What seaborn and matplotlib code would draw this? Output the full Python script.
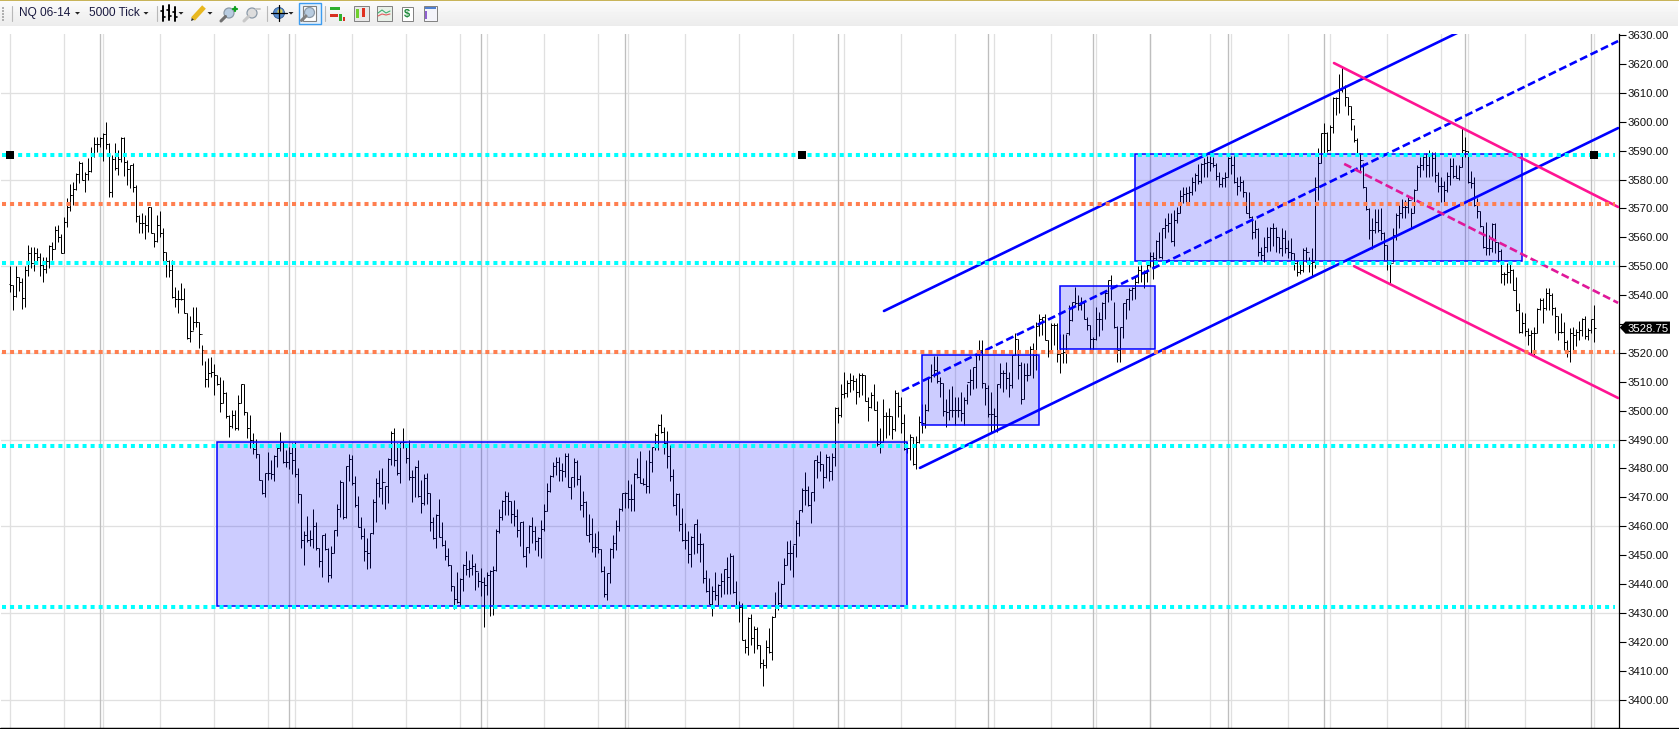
import numpy as np
import pandas as pd
import matplotlib
matplotlib.use('Agg')
import matplotlib.pyplot as plt
from matplotlib.lines import Line2D
from matplotlib.patches import Rectangle, Polygon, Circle
from matplotlib.transforms import blended_transform_factory
import seaborn as sns

# NQ 06-14, 5000 tick bars, one row = 10 bars
highs = [
    3549.9,3543.5,3549.9,3546.4,3545.8,3549.9,3557.3,3556.8,3556.8,3556.2,
    3554.7,3553.3,3553.3,3557.2,3558.5,3563.9,3564.1,3561.2,3567.1,3573.5,
    3578.4,3579.2,3582.1,3586.3,3586.1,3582.7,3587.4,3591.4,3594.8,3594.6,
    3594.6,3596.2,3599.9,3592.5,3588.5,3592.7,3590.2,3594.6,3594.6,3586.7,
    3584.9,3585.8,3578.2,3567.7,3568.3,3567.7,3570.6,3570.6,3561.4,3567.7,
    3569.1,3563.1,3555,3552.2,3552.2,3542.9,3541.8,3544.1,3542.4,3533.7,
    3532.8,3536,3535.8,3530.8,3522.8,3517.3,3518.1,3518.7,3516.2,3512.4,
    3511.8,3510.6,3506.6,3498.5,3500.2,3500.2,3505.4,3509.2,3509.2,3499.6,
    3498.5,3492.2,3490.1,3485,3476,3478.5,3485.8,3482.9,3484.7,3488.1,
    3492.5,3489.3,3486.4,3487.5,3488.7,3489,3480,3471,3458.5,3463.6,
    3458.7,3465.9,3461.6,3452.4,3457,3457.8,3452.4,3453.2,3458.7,3467.7,
    3476,3475.4,3480.9,3485,3484.7,3477.4,3470.5,3463.1,3459.3,3455.8,
    3457.6,3469.3,3476.6,3479.5,3480,3473.9,3483.5,3493,3493.9,3488.7,
    3489.3,3493.9,3488.1,3489.8,3479.5,3480.9,3482.9,3476,3478.1,3478.3,
    3471.6,3463.3,3464.2,3469.3,3461.6,3455.3,3452.4,3446.6,3439.3,3444.3,
    3442,3447,3451.5,3448.3,3450.4,3447.4,3444.3,3445.5,3442.6,3444.3,
    3444.9,3446.3,3459,3465.9,3469.1,3472.1,3472,3468.9,3469.1,3465.9,
    3461.6,3462,3453,3460.3,3463.1,3460.1,3456.4,3462.2,3467.7,3474.9,
    3477.6,3482.4,3484.1,3484.1,3482,3485.3,3485.3,3477.2,3483.5,3482.9,
    3477.6,3472.3,3468.8,3464.3,3462.8,3457.6,3458.5,3452,3446.3,3444,
    3452.4,3457,3462.2,3466.2,3471.6,3472,3476,3474.6,3478.6,3483.5,
    3486.2,3476.6,3482.9,3486.4,3487.6,3492.2,3495.4,3498.9,3494.2,3493.1,
    3488.1,3479.7,3471.4,3471.6,3466.2,3461.3,3458.5,3456.7,3460.8,3462.4,
    3457.8,3454.1,3444.9,3442,3439.4,3444.2,3440.1,3443.7,3445.1,3449.3,
    3450.9,3450.1,3441.1,3434.3,3433.6,3420.9,3428.5,3429.7,3425.5,3425.3,
    3418.9,3414,3420.5,3424.7,3428.8,3437.4,3440.9,3440.5,3448.9,3455,
    3455.3,3453.6,3462.2,3465.7,3473.2,3478.8,3474,3472,3482.8,3484.7,
    3485.9,3481.6,3485.1,3484.4,3485.3,3501.2,3501.4,3509.3,3513.5,3510.7,
    3513.2,3512.4,3511.2,3513.2,3513,3512.4,3504.9,3506.6,3509.3,3503.5,
    3494,3504,3499.7,3500.9,3498.2,3507,3506.6,3504.8,3498.8,3489.3,
    3492.1,3491,3491.2,3498.1,3502.3,3502.3,3511.5,3516.1,3518.9,3518.9,
    3511.5,3509.7,3504.2,3507.4,3508.5,3504.6,3504.8,3506.6,3504.6,3509.4,
    3514.3,3515,3519.6,3524.4,3524.4,3509.7,3508.9,3506.6,3500.8,3509.4,
    3516.4,3514.1,3516.9,3513.5,3519.2,3527,3524.7,3516.9,3516.4,3516.6,
    3522.4,3523.5,3530.8,3533.4,3532.3,3533.3,3524.4,3530.2,3530.2,3530.2,
    3526.7,3526.7,3526.7,3536.5,3537.7,3542.9,3540,3539.2,3537.7,3532.5,
    3529.6,3525.4,3536,3534.2,3537.7,3541.9,3545.2,3546.9,3537.7,3529.3,
    3529,3537.1,3538.8,3542.3,3542.9,3546.4,3549.9,3550.4,3548.7,3551,
    3555,3555,3559.1,3562,3563.1,3566.6,3568.3,3568.3,3569.5,3570.6,
    3576.4,3577.5,3577.5,3577.8,3580.8,3582.4,3585.4,3585.6,3587.3,3588.1,
    3588.1,3587.7,3585.6,3582.7,3581,3582.7,3587.9,3588.1,3588.5,3581,
    3581.2,3579.8,3575.8,3575.8,3567.4,3566,3563.1,3556.8,3560.2,3563.7,
    3563.5,3565.1,3563.7,3560.2,3563.1,3562.5,3559.1,3559.7,3554.5,3552.2,
    3551,3556.2,3556.8,3553.3,3556.2,3581,3590.8,3596.2,3599.7,3596.6,
    3598.9,3608.7,3608.7,3616.5,3618.8,3612.7,3608.7,3605.4,3598.9,3594.2,
    3589,3585.6,3577.3,3570,3566.6,3569.7,3569.7,3570,3562,3557.3,
    3552.2,3563.1,3568.3,3571.2,3573.1,3572.9,3574,3570,3576.6,3585,
    3587.9,3589,3589,3590.2,3589.6,3589.6,3582.7,3581,3579.6,3582.7,
    3587.3,3587.3,3585,3585,3597.7,3594.6,3590,3583.1,3580.8,3573.5,
    3569.2,3563.9,3565.4,3560.8,3564.9,3564.9,3558.5,3555.9,3548.1,3551,
    3551.6,3548.9,3546.4,3537.4,3534,3533.7,3528.5,3528,3529.1,3535.5,
    3538.9,3538.9,3542.4,3542.4,3540.6,3536,3532.6,3533.9,3530.8,3524.5,
    3528.5,3528.9,3528.2,3531.2,3532,3532.6,3528.5,3531.6,3536.6,
]
lows = [
    3540.9,3534.9,3539.5,3541.5,3535.1,3535.8,3546.6,3549.3,3548.5,3551,
    3546.6,3544.7,3547.5,3549.5,3552.2,3556.1,3558.5,3554.7,3554.5,3563.7,
    3569.2,3571.2,3576.4,3578.9,3579.8,3575.7,3579.8,3582.7,3587.7,3589.6,
    3591.1,3586.5,3590.4,3574.1,3573.8,3583.3,3581.6,3586.2,3581.2,3578.1,
    3576.9,3575.8,3565.4,3561.6,3561.6,3559.3,3562,3561.4,3556.5,3558.5,
    3560,3551.9,3546.2,3546.2,3539,3535.8,3533.9,3538.3,3533.7,3524.7,
    3523.8,3527.9,3529.1,3521.6,3515.8,3508.1,3508.1,3511.6,3505.4,3508.9,
    3499.6,3502.5,3497.3,3491,3493.9,3493.3,3493.3,3502.5,3498.5,3490.4,
    3487,3485,3483.5,3476,3471.2,3470.2,3476,3476.2,3475.7,3480.4,
    3486.2,3482,3480.4,3479.7,3478.1,3476.9,3468.2,3452.4,3446.6,3454.7,
    3453.3,3452.4,3451.8,3445.8,3442.6,3451.8,3440.8,3442,3450.6,3456.8,
    3463.3,3462.4,3462.8,3475.7,3474.3,3466.6,3459.6,3455.5,3448.1,3445.1,
    3445.5,3457.3,3461.6,3470.2,3467.7,3465.9,3468.2,3481.2,3480.9,3477.7,
    3475.1,3487,3481.8,3476,3468.5,3470,3470.2,3464.7,3467.4,3467.7,
    3458.5,3455.5,3452.4,3456.2,3453.2,3448.3,3446.3,3437.7,3431.3,3433.6,
    3432.8,3437.7,3443.1,3442.6,3443.1,3438,3438.9,3435.9,3425.3,3436.2,
    3429,3429.3,3444.7,3457.8,3462.2,3463.9,3463.9,3461.3,3460.1,3456.2,
    3453.2,3449.5,3446,3450.9,3454.1,3451.8,3449.7,3448.9,3458.5,3465.4,
    3472,3476.9,3477.8,3475.8,3475.8,3476.9,3473.7,3469.3,3473.7,3474.2,
    3465.6,3463.3,3457,3454.4,3451.2,3449.5,3450.9,3444.3,3435.7,3434.5,
    3440.5,3448.9,3451.8,3458.5,3465.4,3466.2,3466.2,3465.4,3465.4,3476.6,
    3474.9,3474.3,3471.4,3471.6,3478.9,3486.4,3486.4,3492.4,3485,3480.1,
    3475.8,3467,3463.9,3458.2,3455,3452,3447.2,3445.8,3450.4,3450.7,
    3447.8,3440.5,3437.4,3433.1,3428.8,3434.5,3432.8,3435.7,3436.6,3436.6,
    3436.6,3437,3432,3427,3420.7,3416,3415.5,3418.9,3416,3417.4,
    3410.9,3404.9,3410.9,3416,3413.8,3428.5,3431.1,3432.2,3440,3446.6,
    3445,3442.4,3449.3,3456.7,3464.8,3467.4,3467.1,3461.1,3468.9,3476.7,
    3479.3,3473.2,3476.7,3475.8,3476.1,3480.9,3495.7,3497.8,3504.3,3504.7,
    3506.3,3507.2,3502.4,3504.9,3505.5,3503.2,3496.3,3500.9,3500.1,3487.8,
    3485.5,3489.3,3490.5,3491.6,3490.1,3493.1,3497.7,3492.4,3486.4,3485.2,
    3482.9,3481.2,3479.7,3488.9,3492.4,3493.9,3500,3510,3511.5,3509.7,
    3504.6,3498.1,3494.4,3496.8,3497.9,3495,3497.9,3496.5,3495,3502.3,
    3505.4,3507.4,3507.7,3517.5,3508,3501.8,3497.7,3492.7,3492.7,3492.7,
    3507.7,3506.6,3507.4,3504.6,3508,3519.2,3510.8,3502.3,3503.9,3510.4,
    3512.3,3511.2,3514.1,3525.8,3526.2,3524.4,3518.7,3520.4,3522.7,3516.9,
    3513.1,3516.6,3516.6,3526.2,3531.1,3536.5,3534.8,3534.8,3531.6,3527.9,
    3521.2,3521.2,3524.4,3525.8,3527.9,3531.6,3537.7,3538.3,3528.5,3516.9,
    3516.9,3525,3531.6,3534.8,3538.3,3538.6,3544.1,3544.7,3542.4,3544.7,
    3549.6,3545.5,3552.2,3552.7,3552.4,3559.7,3562,3558.5,3557,3565.1,
    3568.5,3571.8,3572,3571.5,3574.6,3576.1,3578.4,3578.7,3581,3581,
    3583,3584.2,3579.8,3577.3,3577.3,3577.5,3580.8,3581.9,3578.7,3574.6,
    3576.1,3574,3568.3,3566.6,3559.3,3559.7,3553.5,3551.6,3551.6,3555,
    3555.4,3557,3555,3554.5,3553.5,3554.5,3552.7,3552.2,3548.7,3546.6,
    3547.3,3548.1,3551.6,3548.1,3546.2,3549.3,3572.9,3585.6,3588.8,3589.6,
    3590.2,3596,3602.3,3602.9,3610.4,3605.4,3602.3,3597.1,3593.1,3588.5,
    3583,3577,3569.5,3559.3,3555.8,3561.4,3562,3559.1,3552.2,3548.7,
    3544.1,3551.6,3559.1,3563.1,3566.6,3566.6,3568.3,3563.1,3568.3,3576.4,
    3580.8,3583.3,3581,3581,3581.2,3579.3,3575.8,3572.3,3572.3,3575.8,
    3578.1,3580.4,3580.4,3580,3584.4,3587.9,3578.7,3577,3570.9,3566.6,
    3563.7,3556.2,3553.9,3553.9,3555,3554.5,3551.3,3544.1,3543.5,3544.1,
    3544.1,3541.6,3534.6,3526.8,3526.8,3525.7,3522.8,3519.3,3519,3526.8,
    3534.9,3530.5,3534.9,3534.9,3533.1,3526.8,3524.5,3526.8,3521,3518.5,
    3516.7,3521,3522.4,3524.5,3525.7,3524.7,3524.5,3526.8,3523.6,
]
closes = [
    3543.4,3539.7,3546.4,3544.7,3538.9,3548.7,3554.7,3551,3554.7,3553.1,
    3550.4,3548.9,3551.9,3557,3555.8,3562.5,3560,3554.7,3565.4,3570.6,
    3574.6,3576.6,3581.9,3585.6,3579.8,3581.9,3583.1,3589,3592.3,3592.3,
    3594.2,3595.7,3592.3,3575.7,3587,3583.9,3587,3594.2,3586.2,3583.5,
    3585,3577.3,3567.4,3565.1,3565.1,3564.3,3570.6,3561.4,3558.8,3564.2,
    3561.4,3555,3551.9,3548.7,3539.5,3538.5,3538.5,3538.5,3533.7,3525.2,
    3527.7,3530.8,3530.8,3526.6,3521,3511.1,3513.2,3513.4,3512.3,3509.2,
    3502.5,3506,3498.1,3494.7,3498.5,3493.9,3502.5,3509.2,3499.4,3493.9,
    3489.8,3486.6,3485,3476,3471.6,3478.5,3478.3,3478.1,3484.3,3487,
    3489.3,3482.4,3482.4,3485.5,3482.9,3478,3471,3455.3,3457,3455.3,
    3455.5,3460.1,3452.4,3447.9,3457,3452,3443.1,3450.9,3458.7,3465.9,
    3475.4,3463.3,3480.9,3483.2,3474.9,3467.4,3459.9,3456.6,3451.6,3450.6,
    3457.6,3468.5,3474.9,3473.1,3475.4,3473.9,3483.2,3492.2,3482.9,3478.5,
    3489.3,3489.3,3483.5,3476.9,3477.2,3480.6,3470.5,3467.9,3476.6,3471.6,
    3461.6,3455.8,3463.9,3456.4,3453.5,3449.7,3446.5,3439.3,3434.7,3433.9,
    3441.9,3446.6,3445.1,3445.5,3446.3,3444.6,3441,3440.8,3439.7,3443.1,
    3444.7,3444.9,3458.2,3463.1,3468.9,3470.5,3468.9,3464.2,3463.6,3458.7,
    3461.4,3449.7,3452.7,3460.1,3458.2,3455,3455.8,3459,3465.4,3472.3,
    3477.4,3480.9,3482.4,3479.5,3479.3,3484.3,3473.7,3476.9,3482.4,3476.3,
    3467.4,3468.5,3457,3457.3,3453,3452.7,3452,3444.4,3436.4,3443.7,
    3452,3454.1,3460.1,3465.9,3471.4,3471.4,3469.3,3469.3,3478.1,3477.2,
    3475.1,3474.6,3473.9,3482.1,3487.6,3491.7,3495.2,3492.7,3488.9,3484.3,
    3477.4,3467.3,3471.2,3460.8,3455.3,3455.3,3450.4,3456.4,3460.8,3453.9,
    3453.9,3442.1,3437.5,3433.1,3437.7,3436.2,3439.7,3440.9,3445.1,3442.6,
    3449.7,3437.4,3432.4,3432,3420.7,3418.1,3428.3,3421.3,3424.4,3418.9,
    3412.8,3411.9,3418.1,3416.6,3428.5,3432.2,3433.6,3440,3446.7,3450.7,
    3450.7,3453.9,3461.1,3465.7,3472.6,3472.4,3467.4,3471.7,3482.8,3482.1,
    3481.6,3477,3483.9,3479,3484.1,3501,3498.4,3505.8,3506.1,3509.7,
    3510.7,3510.4,3506.3,3512.4,3512.4,3503.5,3501.4,3505.5,3500.3,3488.5,
    3489.3,3498.2,3498,3498.2,3493.6,3506.1,3501.7,3495.6,3486.8,3487,
    3491,3481.5,3489.3,3496.2,3495.6,3500.2,3511.5,3512.3,3514,3510.4,
    3509.7,3500,3499.6,3500.4,3500.4,3500.4,3500.4,3499.3,3503.7,3510,
    3510.6,3515,3519.2,3521,3509.7,3508,3498.8,3498.8,3498.1,3509.2,
    3512.9,3513.1,3511.2,3508.9,3519.2,3524.7,3515.8,3504.2,3512.3,3512.3,
    3521.2,3519.2,3529.3,3531.6,3532.3,3524.4,3520.7,3529.6,3529.6,3519.6,
    3520,3520.4,3527,3531.3,3537.7,3537.3,3536.5,3537.1,3531.9,3529.6,
    3524.7,3524.7,3531.6,3531.6,3537.3,3540.8,3545.2,3542.9,3529,3521,
    3528.8,3537.1,3538.5,3541.7,3542.3,3544.7,3548.7,3547.5,3547.5,3550.4,
    3553.5,3552.7,3558.8,3553.1,3563.1,3564.3,3564.8,3558.8,3566,3568.5,
    3574.3,3575,3575.2,3575.8,3579.3,3581.6,3579.6,3585.4,3585.6,3586.2,
    3585.8,3585,3581.2,3578.4,3580.4,3581,3587.3,3585,3579.3,3577.8,
    3579.3,3575.8,3568.5,3567.1,3562,3562.8,3555,3553.9,3556.8,3560.2,
    3563.1,3563.1,3560.2,3556.2,3559.7,3556.2,3555,3554.5,3551,3548.1,
    3548.7,3555.6,3555,3551,3551.6,3577.5,3585.6,3596.2,3596,3590.2,
    3598.3,3608.1,3608.1,3611,3611.5,3608.4,3605.4,3600.8,3593.7,3589,
    3586.7,3577.3,3569.9,3562.5,3562.5,3565.4,3562.5,3561.4,3557.3,3551.9,
    3551,3560.8,3567.7,3568.3,3570.6,3570.6,3572.9,3568.3,3576.4,3584.4,
    3585,3587.9,3585,3588.5,3587.3,3581.6,3577.8,3577.8,3576.4,3581.2,
    3584.7,3581.2,3580.4,3584.4,3590.2,3590,3579.3,3578.7,3571.2,3569.2,
    3563.9,3556.6,3556.2,3556.2,3564.6,3558.5,3555.4,3547.3,3547.3,3548.1,
    3548.7,3541.8,3534.9,3527.4,3530.3,3527.7,3526.2,3526.8,3526.8,3535.1,
    3538.3,3535.5,3540.6,3540,3535.5,3532.6,3527.4,3527.4,3523.9,3520.5,
    3526.8,3526.2,3527.4,3528,3531.6,3525.7,3528,3531.6,3528.75,
]

cyan_levels = [3588.4, 3551.0, 3487.7, 3432.0]
orange_levels = [3571.4, 3520.2]

# boxes: first bar, last bar, low, high
box_start = [68.9, 303.9, 349.9, 374.9]
box_end = [299.0, 342.9, 381.6, 503.9]
box_low = [3432.4, 3495.0, 3521.3, 3551.8]
box_high = [3489.0, 3519.3, 3543.2, 3588.8]

# channels: bar and price at each end
up_upper = ([291.2, 483.6], [3534.5, 3631.4])
up_mid = ([297.2, 535.9], [3506.8, 3627.9])
up_lower = ([303.2, 535.9], [3480.2, 3597.8])
down_upper = ([441.2, 535.9], [3620.3, 3570.5])
down_mid = ([444.6, 535.9], [3585.4, 3537.3])
down_lower = ([447.9, 535.9], [3550.0, 3504.4])

session_bars = [30, 93, 157, 205, 276, 326, 361, 380, 406, 438, 485, 527]
grid_bars = [0, 18, 31, 50, 68, 86, 95, 114, 132, 150, 159, 178, 196, 206, 225, 243, 261,
             278, 297, 315, 328, 347, 362, 380, 400, 407, 426, 440, 459, 477, 486, 505, 528]
grid_prices = [3400, 3430, 3460, 3490, 3520, 3550, 3580, 3610]
axis_prices = list(range(3400, 3640, 10))
handle_bars = [0, 264, 528]
last_price = 3528.75

sns.set_theme(style='white')
plt.rcParams['font.family'] = ['Liberation Sans', 'DejaVu Sans']

W, H = 1679, 729
fig = plt.figure(figsize=(W / 100, H / 100), dpi=100, facecolor='white')
ax = fig.add_axes([1 / W, 1 / H, 1618 / W, 694 / H])

bars = pd.DataFrame({'high': highs, 'low': lows, 'close': closes})
bars['open'] = bars['close'].shift(1).fillna(3544.0)
bars['bar'] = np.arange(len(bars))

# grid
ax.vlines(grid_bars, 3380, 3640, color='#E0E0E0', lw=0.95, zorder=0.5)
ax.vlines(session_bars, 3380, 3640, color='#BEBEBE', lw=0.95, zorder=0.6)
ax.hlines(grid_prices, -10, 540, color='#E0E0E0', lw=0.95, zorder=0.5)

# OHLC bars
black = '#000000'
bar_lw = 0.72
ax.vlines(bars['bar'], bars['low'], bars['high'], color=black, lw=bar_lw, capstyle='butt', snap=True, zorder=2)
ax.hlines(bars['open'], bars['bar'] - 0.5, bars['bar'], color=black, lw=bar_lw, capstyle='butt', snap=True, zorder=2)
ax.hlines(bars['close'], bars['bar'], bars['bar'] + 0.5, color=black, lw=bar_lw, capstyle='butt', snap=True, zorder=2)

# consolidation boxes
for x0, x1, y0, y1 in zip(box_start, box_end, box_low, box_high):
    ax.add_patch(Rectangle((x0, y0), x1 - x0, y1 - y0, facecolor=(0, 0, 1, 0.2),
                           edgecolor=(0, 0, 1, 1), lw=1.1, zorder=3))

# channels
for pts, col, ls in [(up_upper, '#0000FF', '-'), (up_mid, '#0000FF', (0, (3.0, 1.4))),
                     (up_lower, '#0000FF', '-'), (down_upper, '#FF1493', '-'),
                     (down_mid, '#E0189A', (0, (3.0, 1.4))), (down_lower, '#FF1493', '-')]:
    sns.lineplot(x=pts[0], y=pts[1], color=col, lw=1.9, linestyle=ls, ax=ax,
                 estimator=None, errorbar=None, zorder=3.5)

# horizontal levels, dotted
for levels, col in [(cyan_levels, '#00FFFF'), (orange_levels, '#FF7F50')]:
    for lev in levels:
        sns.lineplot(x=[-2.8, 534.9], y=[lev, lev], color=col, lw=2.9, linestyle=(0, (1, 1)),
                     ax=ax, estimator=None, errorbar=None, zorder=4)

sns.scatterplot(x=handle_bars, y=[cyan_levels[0]] * 3, color='black', marker='s', s=30,
                linewidth=0, ax=ax, zorder=5)

ax.set_xlim(-3.11, 536.2)
ax.set_ylim(3390.2, 3630.35)
ax.set_xticks([])
ax.set_xlabel('')
ax.yaxis.tick_right()
ax.set_yticks(axis_prices)
# the 3530 label sits under the last price flag
ax.set_yticklabels(['' if p == 3530 else '%.2f' % p for p in axis_prices])
ax.tick_params(axis='y', right=True, left=False, length=4.8, width=0.8, color='black',
               labelsize=8.2, labelcolor='#111111', pad=1.2)
for side in ['left', 'top']:
    ax.spines[side].set_visible(False)
for side in ['right', 'bottom']:
    ax.spines[side].set_color('black')
    ax.spines[side].set_linewidth(0.9)
fig.add_artist(Line2D([0, 1], [0.8 / H, 0.8 / H], color='black', lw=0.9))

# last price flag
tr = blended_transform_factory(ax.transAxes, ax.transData)
ax.add_patch(Polygon([(1.0005, last_price), (1.004, last_price + 2.1), (1.0315, last_price + 2.1),
                      (1.0315, last_price - 2.1), (1.004, last_price - 2.1)], closed=True,
                     transform=tr, facecolor='black', edgecolor='none', clip_on=False, zorder=10))
ax.text(1.0052, last_price, '%.2f' % last_price, transform=tr, color='white', fontsize=8.2,
        va='center_baseline', ha='left', clip_on=False, zorder=11)

# toolbar, drawn in pixel units
tb = fig.add_axes([0, 1 - 26 / H, 1, 26 / H])
tb.imshow(np.linspace(0.985, 0.925, 26).reshape(-1, 1), cmap='gray', vmin=0, vmax=1,
          aspect='auto', extent=[0, W, 26, 0], zorder=0)
tb.set_xlim(0, W)
tb.set_ylim(26, 0)
tb.axis('off')
tb.add_patch(Rectangle((0, 0), W, 1.2, color='#C8B45A', lw=0, zorder=1))
tb.add_patch(Rectangle((1677.5, 1), 2, 25, color='white', lw=0, zorder=1))

for sx in [11.5, 156.5, 266.5, 324.5]:
    tb.plot([sx, sx], [6, 21], color='#B8B8B8', lw=0.8)
for gy in [7, 10, 13, 16, 19]:
    tb.add_patch(Rectangle((2, gy), 2, 1.5, color='#B0B0B0', lw=0))
for tx in [77.5, 146, 181, 210, 291]:
    tb.add_patch(Polygon([(tx - 2.5, 12), (tx + 2.5, 12), (tx, 14.6)], color='#222222', lw=0))
tb.text(19, 13, 'NQ 06-14', fontsize=8.6, color='#1A1A40', va='center', ha='left')
tb.text(89, 13, '5000 Tick', fontsize=8.6, color='#1A1A40', va='center', ha='left')

# chart type icon
for bx, b0, b1 in [(163, 6, 21), (169, 5, 20), (174.5, 7, 21)]:
    tb.plot([bx, bx], [b0, b1], color='black', lw=1.4)
    tb.plot([bx - 2, bx], [b0 + 5, b0 + 5], color='black', lw=1.2)
    tb.plot([bx, bx + 2], [b1 - 4, b1 - 4], color='black', lw=1.2)
# pencil
tb.plot([193, 204], [19, 7], color='#E8B820', lw=3.6, solid_capstyle='butt')
tb.add_patch(Polygon([(191, 21), (192, 17), (195, 19.5)], color='#303030', lw=0))


def magnifier(x, y, col, handle):
    tb.add_patch(Circle((x, y), 5, facecolor=col, edgecolor='#8C9AA8', lw=0.9, zorder=3))
    tb.plot([x - 3.5, x - 8], [y + 3.5, y + 8], color=handle, lw=2.2, zorder=3)


magnifier(229, 13, '#B8CCE0', '#707070')
tb.plot([233, 237], [9, 9], color='#10A020', lw=1.6, zorder=4)
tb.plot([235, 235], [7, 11], color='#10A020', lw=1.6, zorder=4)
magnifier(252, 13, '#DDDDDD', '#C8C8C8')
tb.plot([256, 260], [9, 9], color='#C8C8C8', lw=1.4, zorder=4)

# globe with cross hair
tb.add_patch(Circle((279, 13), 5.5, facecolor='#5B8FD0', edgecolor='#2E5A90', lw=0.6, zorder=3))
tb.add_patch(Circle((280, 11.5), 2.6, facecolor='#D8D060', lw=0, zorder=4))
tb.plot([271, 287], [13, 13], color='black', lw=0.9, zorder=5)
tb.plot([279, 279], [5, 21], color='black', lw=0.9, zorder=5)

# active zoom button
tb.add_patch(Rectangle((298.5, 2.5), 22, 21, facecolor='#E6F1FB', edgecolor='#3C9CF0', lw=1.0, zorder=2))
tb.add_patch(Rectangle((303, 6), 13, 15, facecolor='white', edgecolor='#808080', lw=0.8, zorder=3))
magnifier(309.5, 12.5, '#B8CCE0', '#808080')

# study and window icons
for rx, ry, rw, col in [(330, 7, 10, '#30B030'), (330, 14, 8, '#D83020')]:
    tb.add_patch(Rectangle((rx, ry), rw, 3, color=col, lw=0, zorder=3))
tb.add_patch(Rectangle((339, 14), 3, 7, color='#30B030', lw=0, zorder=3))
tb.add_patch(Rectangle((343, 17), 2, 4, color='#D83020', lw=0, zorder=3))
tb.add_patch(Rectangle((353.5, 5.5), 15, 15, facecolor='#E8E8E8', edgecolor='#808080', lw=0.7, zorder=3))
tb.add_patch(Rectangle((356, 9), 3, 9, color='#70D030', lw=0, zorder=4))
tb.add_patch(Rectangle((362, 8), 3, 9, color='#E03020', lw=0, zorder=4))
tb.add_patch(Rectangle((376.5, 5.5), 15, 15, facecolor='#E8F0E8', edgecolor='#808080', lw=0.7, zorder=3))
tb.plot([378, 382, 386, 390], [13, 10, 13, 11], color='#40B070', lw=0.8, zorder=4)
tb.plot([378, 382, 386, 390], [16, 14, 15, 14], color='#E06060', lw=0.8, zorder=4)
tb.add_patch(Rectangle((401.5, 6.5), 11, 14, facecolor='white', edgecolor='#808080', lw=0.7, zorder=3))
tb.text(407, 13.8, '$', fontsize=8, fontweight='bold', color='#1E8A3C', ha='center', va='center', zorder=4)
tb.add_patch(Rectangle((423.5, 5.5), 13, 15, facecolor='#F4F4FA', edgecolor='#808080', lw=0.7, zorder=3))
tb.add_patch(Rectangle((424.5, 7), 11, 2, color='#5080D0', lw=0, zorder=4))
tb.add_patch(Rectangle((425, 11), 2, 8, color='#9060D0', lw=0, zorder=4))

fig.savefig('out.png', dpi=100)
